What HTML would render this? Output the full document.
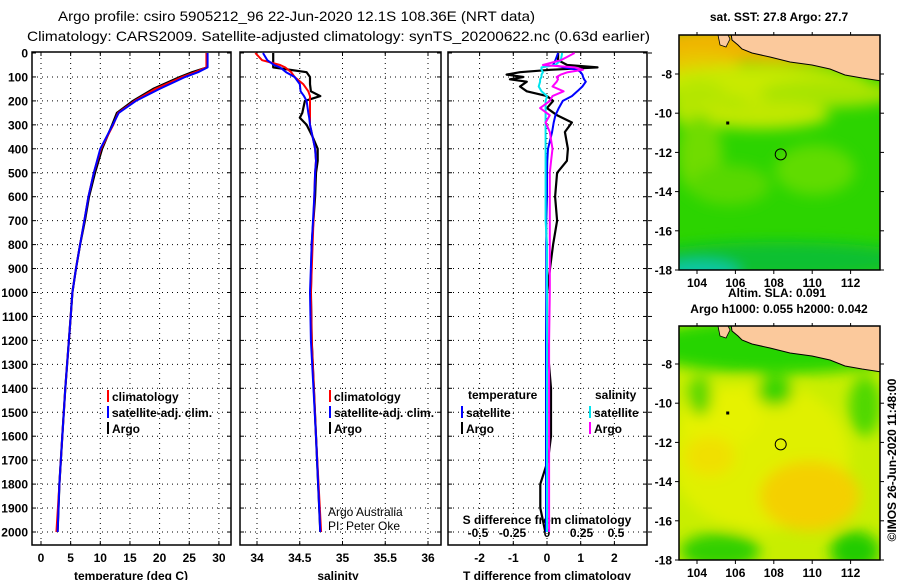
<!DOCTYPE html>
<html><head><meta charset="utf-8"><style>
body{margin:0;background:#fff;}
svg{display:block;font-family:"Liberation Sans",sans-serif;}
.t{font-size:12px;font-weight:bold;fill:#000;}
</style></head><body>
<svg id="c" width="900" height="580" viewBox="0 0 900 580">
<defs>
<filter id="bl" x="-20%" y="-20%" width="140%" height="140%"><feGaussianBlur stdDeviation="7"/></filter>
<clipPath id="cm1"><rect x="679" y="35" width="201" height="235"/></clipPath>
<clipPath id="cm2"><rect x="679" y="326" width="201" height="234"/></clipPath>
</defs>
<text x="58" y="21" font-size="14" textLength="477" lengthAdjust="spacingAndGlyphs">Argo profile: csiro 5905212_96 22-Jun-2020 12.1S 108.36E (NRT data)</text>
<text x="27" y="41" font-size="14" textLength="623" lengthAdjust="spacingAndGlyphs">Climatology: CARS2009. Satellite-adjusted climatology: synTS_20200622.nc (0.63d earlier)</text>
<g id="g"></g>
</svg>
<script>
// ---- data ----
const depthT = [0,60,80,100,150,200,250,300,400,500,600,700,800,900,1000,1100,1200,1400,1600,1800,2000];
const tempArgo = [28,28,25.5,23.4,18.9,15.5,12.8,12,10.3,9.1,8.1,7.4,6.6,5.9,5.3,5.0,4.7,4.1,3.6,3.1,2.8];
const tempClim = [27.9,27.9,26,23.8,19.3,15.8,13,12.2,10.1,8.9,8.0,7.3,6.6,5.9,5.3,5.0,4.7,4.1,3.6,3.1,2.6];
const tempSat  = [28.1,28.1,26.5,24.3,20,16,13.1,12.1,10.0,8.9,8.0,7.3,6.6,5.9,5.3,5.0,4.7,4.1,3.6,3.1,2.8];
const depthS = [0,30,50,60,80,100,130,160,180,200,250,270,300,350,400,450,500,600,800,1000,1200,1600,2000];
const salArgo = [34.19,34.19,34.19,34.19,34.58,34.62,34.62,34.63,34.74,34.56,34.53,34.5,34.58,34.65,34.71,34.71,34.69,34.68,34.64,34.63,34.64,34.69,34.74];
const salClim = [33.98,34.06,34.27,34.33,34.4,34.44,34.54,34.6,34.62,34.62,34.62,34.62,34.62,34.65,34.68,34.69,34.68,34.67,34.65,34.63,34.64,34.69,34.75];
const salSat  = [34.07,34.12,34.2,34.27,34.34,34.44,34.5,34.51,34.55,34.58,34.6,34.61,34.62,34.65,34.68,34.69,34.68,34.67,34.64,34.62,34.63,34.69,34.74];
const depthD = [0,30,50,60,70,80,90,100,110,120,140,160,180,200,230,260,290,330,400,450,500,600,700,800,900,1000,1200,1400,1600,1700,1800,1900,2000];
const tdiffArgo = [0.33,0.33,0.6,1.5,0.1,-0.8,-1.2,-0.7,-1.1,-0.6,-0.8,-0.6,0,0.18,0,0.3,0.74,0.53,0.62,0.59,0.3,0.24,0.3,0.18,0.09,0,0,0.12,0.12,0.03,-0.2,-0.2,-0.05];
const tdiffSat = [0.33,0.25,0.18,0.5,0.9,1.0,1.05,1.07,1.1,1.15,1.05,0.9,0.74,0.47,0.35,0.25,0.2,0.15,0.03,0.01,0,0,-0.02,-0.02,-0.02,-0.02,-0.03,-0.03,-0.03,-0.03,-0.03,-0.03,-0.03];
const sdiffArgo = [0.2,0.1,-0.03,0.2,0.26,0.15,0.1,0.07,0.08,0.07,0.04,0.12,0.04,0.02,-0.05,0.02,-0.01,0.02,0.04,0.03,0.02,0.02,0.02,0.02,0.02,0.02,0.015,0.015,0.015,0.015,0.015,0.015,0.015];
const sdiffSat = [0.11,0.1,0.06,-0.04,-0.04,-0.03,-0.04,-0.04,-0.05,-0.05,-0.06,-0.04,0,-0.01,-0.01,-0.01,-0.01,-0.01,-0.01,-0.01,-0.01,-0.01,-0.01,0,0,0,0,0,0,0,0,0,0];
const depthTicks = [0,100,200,300,400,500,600,700,800,900,1000,1100,1200,1300,1400,1500,1600,1700,1800,1900,2000];
const tempTicks = [0,5,10,15,20,25,30];
const salTicks = [34,34.5,35,35.5,36];
const tdTicks = [-2,-1,0,1,2];
const sdTicks = [-0.5,-0.25,0,0.25,0.5];
const lonTicks = [104,106,108,110,112];
const latTicks = [-8,-10,-12,-14,-16,-18];
const argoLon = 108.36, argoLat = -12.1;

// ---- scales ----
const yD = d => 53 + d*0.2395;
const xT = t => 41 + t*5.93;
const xS = s => 257 + (s-34)*85.5;
const xTD = v => 547 + v*33.7;
const xSD = v => 547 + v*138;
const mx = lon => 697 + (lon-104)*19.2;
const myTop = lat => 74 + (-8-lat)*19.6;
const myBot = lat => 364 + (-8-lat)*19.6;

const NS="http://www.w3.org/2000/svg";
const G=document.getElementById('g');
function mk(tag,at,parent){const e=document.createElementNS(NS,tag);for(const k in at)e.setAttribute(k,at[k]);(parent||G).appendChild(e);return e;}
function txt(x,y,s,anchor,cls){const e=mk('text',{x:x,y:y,'text-anchor':anchor||'start',class:cls||'t'});e.textContent=s;return e;}

// panels
const panels=[{x0:32,x1:231,name:'temperature-panel'},{x0:240,x1:441,name:'salinity-panel'},{x0:448,x1:647,name:'difference-panel'}];
const vgrid=[tempTicks.map(xT),salTicks.map(xS),tdTicks.map(xTD)];
panels.forEach((p,i)=>{
  const g=mk('g',{});
  
  
  depthTicks.forEach(d=>{ if(d>0){const l=mk('line',{x1:p.x0,x2:p.x1,y1:yD(d),y2:yD(d),stroke:'#000','stroke-width':1,'stroke-dasharray':'1 4'},g);
    }
    mk('line',{x1:p.x0,x2:p.x0+4,y1:yD(d),y2:yD(d),stroke:'#000'},g);mk('line',{x1:p.x1-4,x2:p.x1,y1:yD(d),y2:yD(d),stroke:'#000'},g);});
  vgrid[i].forEach(x=>{const l=mk('line',{x1:x,x2:x,y1:53,y2:545,stroke:'#000','stroke-width':1,'stroke-dasharray':'1 4'},g);
    
    mk('line',{x1:x,x2:x,y1:52,y2:56,stroke:'#000'},g);mk('line',{x1:x,x2:x,y1:541,y2:545,stroke:'#000'},g);});
  const r=mk('rect',{x:p.x0,y:52,width:p.x1-p.x0,height:493,fill:'none',stroke:'#000','stroke-width':1.5},g);
  
});
depthTicks.forEach(d=>{const t=txt(28,yD(d)+4.5,String(d),'end');});
depthTicks.forEach(d=>mk('line',{x1:648,x2:652,y1:yD(d),y2:yD(d),stroke:'#000'}));
tempTicks.forEach(v=>{const t=txt(xT(v),562,String(v),'middle');});
salTicks.forEach(v=>{const t=txt(xS(v),562,String(v),'middle');});
tdTicks.forEach(v=>{const t=txt(xTD(v),562,String(v),'middle');});
sdTicks.forEach(v=>{const t=txt(xSD(v),537,String(v),'middle');});
let a=txt(131,580,'temperature (deg C)','middle');
a=txt(338,580,'salinity','middle');
a=txt(547,580,'T difference from climatology','middle');
a=txt(547,524,'S difference from climatology','middle');

function line(ds,vs,xf,col,name,w){
  const pts=ds.map((d,i)=>xf(vs[i]).toFixed(1)+','+yD(d).toFixed(1)).join(' ');
  const e=mk('polyline',{points:pts,fill:'none',stroke:col,'stroke-width':w||2,'stroke-linejoin':'round'});
  
  
}
line(depthT,tempArgo,xT,'#000','temp-argo-line',2.2);
line(depthT,tempClim,xT,'#ff0000','temp-climatology-line');
line(depthT,tempSat,xT,'#0000ff','temp-satellite-line');
line(depthS,salArgo,xS,'#000','salinity-argo-line',2.2);
line(depthS,salClim,xS,'#ff0000','salinity-climatology-line');
line(depthS,salSat,xS,'#0000ff','salinity-satellite-line');
line(depthD,tdiffArgo,xTD,'#000','tdiff-argo-line',2.2);
line(depthD,tdiffSat,xTD,'#0000ff','tdiff-satellite-line');
line(depthD,sdiffSat,xSD,'#00e5ee','sdiff-satellite-line');
line(depthD,sdiffArgo,xSD,'#ff00ff','sdiff-argo-line');

function leg(x,y,col,label,name){const g=mk('g',{});
  mk('rect',{x:x,y:y-9,width:2,height:12,fill:col},g);const t=mk('text',{x:x+5,y:y+2,class:'t'},g);t.textContent=label;}
leg(107,399,'#ff0000','climatology','legend-entry-climatology');
leg(107,415,'#0000ff','satellite-adj. clim.','legend-entry-satellite-adj');
leg(107,431,'#000','Argo','legend-entry-argo');
leg(329,399,'#ff0000','climatology','legend-entry-sal-climatology');
leg(329,415,'#0000ff','satellite-adj. clim.','legend-entry-sal-satellite-adj');
leg(329,431,'#000','Argo','legend-entry-sal-argo');
a=txt(468,399,'temperature');
a=txt(595,399,'salinity');
leg(461,415,'#0000ff','satellite','legend-entry-tdiff-satellite');
leg(461,431,'#000','Argo','legend-entry-tdiff-argo');
leg(589,415,'#00e5ee','satellite','legend-entry-sdiff-satellite');
leg(589,431,'#ff00ff','Argo','legend-entry-sdiff-argo');
const cr=mk('text',{x:328,y:516,'font-size':12,fill:'#000'});cr.textContent='Argo Australia';

const cr2=mk('text',{x:328,y:530,'font-size':12,fill:'#000'});cr2.textContent='PI: Peter Oke';


// ---- maps ----
function map(top,bot,clip,my,blobs,base,name,title,titleY){
  const g=mk('g',{'clip-path':'url(#'+clip+')'});
  
  mk('rect',{x:679,y:top,width:201,height:bot-top,fill:base},g);
  const bg=mk('g',{filter:'url(#bl)'},g);
  blobs.forEach(b=>mk('ellipse',{cx:b[0],cy:top+b[1],rx:b[2],ry:b[3],fill:b[4]},bg));
  const o=top;
  const land=mk('polygon',{points:`731,${o-2} 732,${o+5} 738,${o+10} 742,${o+14} 752,${o+18} 770,${o+22} 790,${o+27} 812,${o+30} 830,${o+34} 845,${o+40} 862,${o+43} 882,${o+46} 882,${o-2}`,fill:'#fbc99c',stroke:'#000','stroke-width':1},g);
  
  mk('polygon',{points:`718,${o} 720,${o+10} 726,${o+12} 730,${o+4} 728,${o}`,fill:'#fbc99c',stroke:'#000','stroke-width':0.8},g);
  mk('rect',{x:679,y:top,width:201,height:bot-top,fill:'none',stroke:'#000','stroke-width':1.5});
  const m=mk('circle',{cx:mx(argoLon),cy:my(argoLat),r:5.5,fill:'none',stroke:'#000','stroke-width':1});
  
  mk('rect',{x:mx(105.6)-1.5,y:my(-10.5)-1.5,width:3,height:3,fill:'#000'});
  lonTicks.forEach(l=>{mk('line',{x1:mx(l),x2:mx(l),y1:bot,y2:bot+4,stroke:'#000'});mk('line',{x1:mx(l),x2:mx(l),y1:top-3,y2:top,stroke:'#000'});
    const t=txt(mx(l),bot+17,String(l),'middle');});
  latTicks.forEach(l=>{mk('line',{x1:675,x2:679,y1:my(l),y2:my(l),stroke:'#000'});mk('line',{x1:880,x2:884,y1:my(l),y2:my(l),stroke:'#000'});
    const t=txt(672,my(l)+4.5,String(l),'end');});
  const tt=txt(779,titleY,title,'middle');
}
map(35,270,'cm1',myTop,[
 [780,8,140,20,'#f0b400'],
 [700,30,40,14,'#e8c800'],[760,48,110,18,'#c8ea00'],[830,58,70,14,'#a8e400'],[700,70,30,25,'#b4e600'],
 [760,80,70,14,'#c0e800'],
 [700,120,22,40,'#70dc00'],[815,135,40,25,'#60dc00'],[730,150,40,20,'#58d800'],
 [780,225,140,18,'#10c030'],[700,238,40,12,'#10c8a8']
],'#2cd400','sst-map','sat. SST: 27.8 Argo: 27.7',21);
map(326,560,'cm2',myBot,[
 [780,20,140,28,'#28d400'],[760,130,90,75,'#e0f000'],[720,90,40,30,'#e6f200'],
 [810,170,50,35,'#f4d000'],[710,130,25,20,'#f0e000'],
 [775,65,18,15,'#3ad400'],[700,70,12,20,'#5ad800'],
 [855,225,25,20,'#20cc00'],[720,225,40,18,'#30d000'],[865,80,16,30,'#50d800']
],'#c8ee00','sla-map','Argo h1000: 0.055 h2000: 0.042',313);
a=txt(777,297,'Altim. SLA: 0.091','middle');
const im=mk('text',{x:0,y:0,class:'t','text-anchor':'middle',transform:'translate(896,460) rotate(-90)'});
im.textContent='©IMOS 26-Jun-2020 11:48:00';

</script>
</body></html>
